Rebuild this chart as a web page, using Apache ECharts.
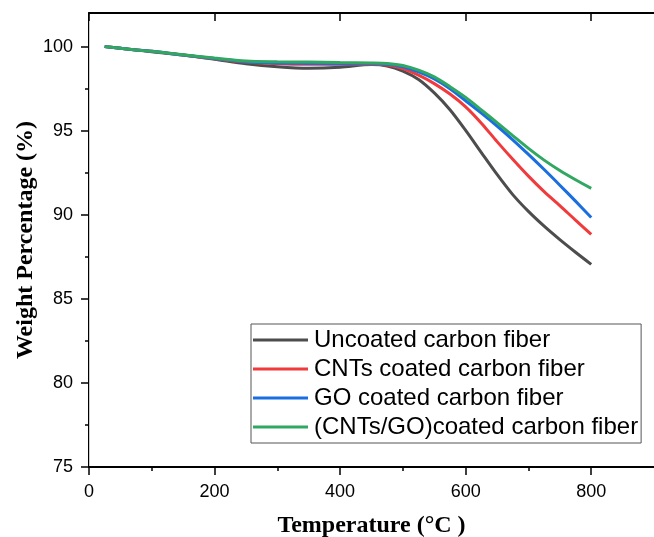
<!DOCTYPE html>
<html>
<head>
<meta charset="utf-8">
<script src="https://cdn.jsdelivr.net/npm/echarts@6/dist/echarts.min.js"></script>
<style>
html,body{margin:0;padding:0;background:#fff;}
#chart{width:654px;height:537px;}
</style>
</head>
<body>
<div id="chart"></div>
<script>
const temperature = [25, 50, 75, 100, 150, 200, 250, 300, 350, 400, 450, 475, 500, 525, 550, 575, 600, 625, 650, 675, 700, 725, 750, 775, 800];
const uncoated = [100, 99.9, 99.8, 99.7, 99.5, 99.25, 98.98, 98.8, 98.71, 98.77, 98.93, 98.85, 98.55, 98.05, 97.25, 96.25, 95.02, 93.7, 92.4, 91.2, 90.2, 89.32, 88.52, 87.77, 87.05];
const cntsCoated = [100, 99.9, 99.8, 99.72, 99.5, 99.28, 99.08, 98.98, 98.95, 98.95, 98.95, 98.9, 98.7, 98.3, 97.8, 97.18, 96.42, 95.45, 94.35, 93.3, 92.3, 91.38, 90.55, 89.68, 88.83];
const goCoated = [100, 99.9, 99.8, 99.72, 99.5, 99.3, 99.1, 99.02, 99.0, 98.98, 98.98, 98.95, 98.8, 98.5, 98.08, 97.5, 96.78, 96.05, 95.28, 94.46, 93.59, 92.69, 91.76, 90.81, 89.84];
const cntsGoCoated = [100, 99.9, 99.8, 99.72, 99.52, 99.32, 99.15, 99.1, 99.08, 99.05, 99.03, 99.0, 98.88, 98.6, 98.2, 97.62, 96.98, 96.24, 95.48, 94.71, 93.95, 93.25, 92.63, 92.08, 91.57];

const seriesNames = ['Uncoated carbon fiber', 'CNTs coated carbon fiber', 'GO coated carbon fiber', '(CNTs/GO)coated carbon fiber'];
const seriesValues = [uncoated, cntsCoated, goCoated, cntsGoCoated];
const seriesColors = ['#4d4d4d', '#f03a3c', '#1a6ee0', '#30a862'];

const xMajorTicks = [0, 200, 400, 600, 800];
const xMinorTicks = [100, 300, 500, 700];
const yMajorTicks = [75, 80, 85, 90, 95, 100];
const yMinorTicks = [77.5, 82.5, 87.5, 92.5, 97.5];

const chart = echarts.init(document.getElementById('chart'), null, {renderer: 'canvas'});
const labelFont = 'Liberation Sans, Arial, sans-serif';
const titleFont = 'Liberation Serif, Times New Roman, serif';
const lineBlack = {color: '#000', width: 2};

const X_MIN = 0, X_MAX = 900, Y_MIN = 75, Y_MAX = 102;

function xAx(extra) {
  return Object.assign({type: 'value', min: X_MIN, max: X_MAX, interval: 100, splitLine: {show: false}}, extra);
}
function yAx(extra) {
  return Object.assign({type: 'value', min: Y_MIN, max: Y_MAX, interval: 5, splitLine: {show: false}}, extra);
}

const option = {
  animation: false,
  backgroundColor: '#fff',
  grid: {left: 89, top: 13, width: 565, height: 454, containLabel: false, outerBoundsMode: 'none'},
  legend: {
    orient: 'vertical',
    left: 251, top: 324,
    padding: [4, 3, 4, 2],
    itemGap: 5,
    itemWidth: 55, itemHeight: 3,
    icon: 'rect',
    borderColor: '#555', borderWidth: 1,
    textStyle: {fontFamily: labelFont, fontSize: 24, color: '#000', padding: [0, 0, 0, 1]},
    data: seriesNames
  },
  xAxis: [
    xAx({position: 'bottom', axisLine: {lineStyle: lineBlack},
      axisTick: {inside: false, length: 8, lineStyle: {color: '#000', width: 1.5}, customValues: xMajorTicks},
      axisLabel: {customValues: xMajorTicks, fontFamily: labelFont, fontSize: 18, color: '#000', margin: 16},
      name: 'Temperature (°C )', nameLocation: 'middle', nameGap: 47, nameMoveOverlap: false,
      nameTextStyle: {fontFamily: titleFont, fontWeight: 'bold', fontSize: 24, color: '#000'}}),
    xAx({position: 'bottom', axisLine: {show: false},
      axisTick: {inside: false, length: 4, lineStyle: {color: '#000', width: 1.5}, customValues: xMinorTicks},
      axisLabel: {show: false}}),
    xAx({position: 'top', axisLine: {lineStyle: lineBlack},
      axisTick: {inside: true, length: 8, lineStyle: {color: '#000', width: 1.5}, customValues: xMajorTicks},
      axisLabel: {show: false}})
  ],
  yAxis: [
    yAx({position: 'left', axisLine: {show: true, lineStyle: lineBlack},
      axisTick: {show: true, inside: false, length: 8, lineStyle: {color: '#000', width: 1.5}, customValues: yMajorTicks},
      axisLabel: {customValues: yMajorTicks, fontFamily: labelFont, fontSize: 18, color: '#000', margin: 16},
      name: 'Weight Percentage (%)', nameLocation: 'middle', nameGap: 51, nameRotate: 90, nameMoveOverlap: false,
      nameTextStyle: {fontFamily: titleFont, fontWeight: 'bold', fontSize: 24, color: '#000'}}),
    yAx({position: 'left', axisLine: {show: false},
      axisTick: {show: true, inside: false, length: 4, lineStyle: {color: '#000', width: 1.5}, customValues: yMinorTicks},
      axisLabel: {show: false}}),
    yAx({position: 'right', axisLine: {show: true, lineStyle: {color: '#cccccc', width: 1}},
      axisTick: {show: true, inside: true, length: 8, lineStyle: {color: '#000', width: 1.5}, customValues: yMajorTicks},
      axisLabel: {show: false}})
  ],
  series: seriesNames.map((name, i) => ({
    name: name,
    type: 'line',
    xAxisIndex: 0, yAxisIndex: 0,
    data: temperature.map((t, j) => [t, seriesValues[i][j]]),
    smooth: 0.3,
    symbol: 'none',
    lineStyle: {color: seriesColors[i], width: 3},
    itemStyle: {color: seriesColors[i]},
    z: 2 + i
  }))
};
chart.setOption(option);
</script>
</body>
</html>
